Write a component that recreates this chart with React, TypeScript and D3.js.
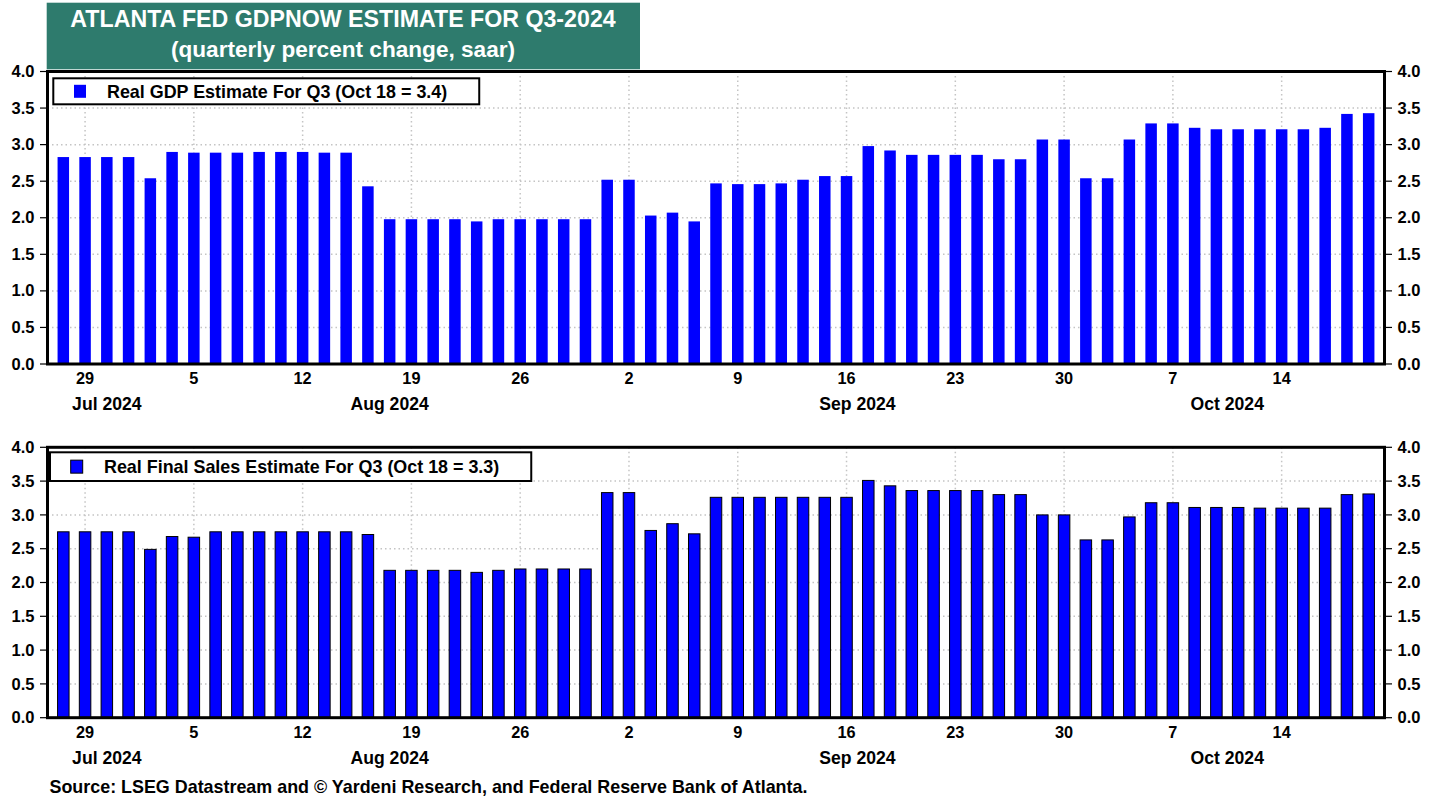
import * as d3 from "d3";
import { useEffect, useRef } from "react";

// business days shown on the x axis
const firstDay = "2024-07-26";
const lastDay = "2024-10-18";

const gdpValues = [
  2.83, 2.83, 2.83, 2.83, 2.54, 2.9, 2.89, 2.89, 2.89, 2.9,
  2.9, 2.9, 2.89, 2.89, 2.43, 1.98, 1.98, 1.98, 1.98, 1.95,
  1.98, 1.98, 1.98, 1.98, 1.98, 2.52, 2.52, 2.03, 2.07, 1.95,
  2.47, 2.46, 2.46, 2.47, 2.52, 2.57, 2.57, 2.98, 2.92, 2.86,
  2.86, 2.86, 2.86, 2.8, 2.8, 3.07, 3.07, 2.54, 2.54, 3.07,
  3.29, 3.29, 3.23, 3.21, 3.21, 3.21, 3.21, 3.21, 3.23, 3.42,
  3.43
];

const salesValues = [
  2.75, 2.75, 2.75, 2.75, 2.49, 2.68, 2.67, 2.75, 2.75, 2.75,
  2.75, 2.75, 2.75, 2.75, 2.71, 2.18, 2.18, 2.18, 2.18, 2.15,
  2.18, 2.2, 2.2, 2.2, 2.2, 3.33, 3.33, 2.77, 2.87, 2.72,
  3.26, 3.26, 3.26, 3.26, 3.26, 3.26, 3.26, 3.51, 3.43, 3.36,
  3.36, 3.36, 3.36, 3.3, 3.3, 3.0, 3.0, 2.63, 2.63, 2.97,
  3.18, 3.18, 3.11, 3.11, 3.11, 3.1, 3.1, 3.1, 3.1, 3.3,
  3.31
];

const yTicks = [0, 0.5, 1, 1.5, 2, 2.5, 3, 3.5, 4];
const titleLines = ["ATLANTA FED GDPNOW ESTIMATE FOR Q3-2024", "(quarterly percent change, saar)"];
const legendLabels = ["Real GDP Estimate For Q3 (Oct 18 = 3.4)", "Real Final Sales Estimate For Q3 (Oct 18 = 3.3)"];
const sourceText = "Source: LSEG Datastream and \u00a9 Yardeni Research, and Federal Reserve Bank of Atlanta.";

const font = "'Liberation Sans', Arial, sans-serif";
const teal = "#2E7B6D";
const blue = "#0000FF";

const parse = d3.timeParse("%Y-%m-%d");
const dates = d3
  .timeDays(parse(firstDay), d3.timeDay.offset(parse(lastDay), 1))
  .filter(d => d.getDay() !== 0 && d.getDay() !== 6);

const drawChart = (svgEl) => {
  const svg = d3.select(svgEl);
  svg.selectAll("*").remove();

  const x = d3
    .scaleLinear()
    .domain([-0.75, dates.length - 0.25])
    .range([47, 1385]);
  const left = 47.5;
  const right = 1384.5;
  const barW = 11.5;

  const mondays = dates.map((d, i) => ({ d, i })).filter(o => o.d.getDay() === 1);

  // month labels centred on the span of each month
  const months = [];
  dates.forEach((d, i) => {
    const key = d3.timeFormat("%b %Y")(d);
    if (!months.length || months[months.length - 1].key !== key) months.push({ key, start: i });
  });
  months.forEach((m, k) => {
    const end = k < months.length - 1 ? months[k + 1].start : dates.length - 1;
    m.mid = (m.start + end) / 2;
  });

  // title
  svg.append("rect").attr("x", 46.7).attr("y", 2.7).attr("width", 593.3).attr("height", 66.6).attr("fill", teal);
  titleLines.forEach((t, k) => {
    svg
      .append("text")
      .attr("x", 343)
      .attr("y", 27 + k * 30)
      .attr("text-anchor", "middle")
      .attr("fill", "#fff")
      .style("font", `bold ${k === 0 ? 23.2 : 22.6}px ${font}`)
      .text(t);
  });

  const panels = [
    { values: gdpValues, label: legendLabels[0], y0: 364, y1: 71.5, lx: 53.3, ly: 78.3, lh: 26, sqx: 74, textX: 107, outline: "none" },
    { values: salesValues, label: legendLabels[1], y0: 717.7, y1: 447.3, lx: 50, ly: 452.3, lh: 28.7, sqx: 70.7, textX: 104, outline: "#000" }
  ];

  panels.forEach(p => {
    const y = d3.scaleLinear().domain([0, 4]).range([p.y0, p.y1]);
    const g = svg.append("g");

    // grid
    g.selectAll(".hgrid")
      .data(yTicks.slice(1, -1))
      .enter()
      .append("line")
      .attr("x1", left)
      .attr("x2", right)
      .attr("y1", d => y(d))
      .attr("y2", d => y(d))
      .attr("stroke", "#c4c4c4")
      .attr("stroke-width", 1.5)
      .attr("stroke-dasharray", "1.5,3");
    g.selectAll(".vgrid")
      .data(mondays)
      .enter()
      .append("line")
      .attr("x1", d => x(d.i))
      .attr("x2", d => x(d.i))
      .attr("y1", p.y1)
      .attr("y2", p.y0)
      .attr("stroke", "#c4c4c4")
      .attr("stroke-width", 1.5)
      .attr("stroke-dasharray", "1.5,3");

    // bars
    g.selectAll(".bar")
      .data(p.values)
      .enter()
      .append("rect")
      .attr("x", (d, i) => x(i) - barW / 2)
      .attr("width", barW)
      .attr("y", d => y(d))
      .attr("height", d => y(0) - y(d))
      .attr("fill", blue)
      .attr("stroke", p.outline)
      .attr("stroke-width", 1);

    // frame
    g.append("rect")
      .attr("x", left)
      .attr("y", p.y1)
      .attr("width", right - left)
      .attr("height", p.y0 - p.y1)
      .attr("fill", "none")
      .attr("stroke", "#000")
      .attr("stroke-width", 3);

    // y ticks both sides
    yTicks.forEach(t => {
      g.append("line").attr("x1", 40).attr("x2", left).attr("y1", y(t)).attr("y2", y(t)).attr("stroke", "#000").attr("stroke-width", 1.2);
      g.append("line").attr("x1", right).attr("x2", 1392).attr("y1", y(t)).attr("y2", y(t)).attr("stroke", "#000").attr("stroke-width", 1.2);
      g.append("text")
        .attr("x", 34.5)
        .attr("y", y(t) + 5.6)
        .attr("text-anchor", "end")
        .style("font", `bold 16.5px ${font}`)
        .text(d3.format(".1f")(t));
      g.append("text")
        .attr("x", 1397.5)
        .attr("y", y(t) + 5.6)
        .attr("text-anchor", "start")
        .style("font", `bold 16.5px ${font}`)
        .text(d3.format(".1f")(t));
    });

    // x labels
    g.selectAll(".day")
      .data(mondays)
      .enter()
      .append("text")
      .attr("x", d => x(d.i))
      .attr("y", p.y0 + 20.3)
      .attr("text-anchor", "middle")
      .style("font", `bold 16.3px ${font}`)
      .text(d => d3.timeFormat("%-d")(d.d));
    g.selectAll(".month")
      .data(months)
      .enter()
      .append("text")
      .attr("x", d => x(d.mid))
      .attr("y", p.y0 + 46)
      .attr("text-anchor", "middle")
      .style("font", `bold 17.6px ${font}`)
      .text(d => d.key);

    // legend
    const box = g.append("rect")
      .attr("x", p.lx)
      .attr("y", p.ly)
      .attr("height", p.lh)
      .attr("fill", "#fff")
      .attr("stroke", "#000")
      .attr("stroke-width", 2);
    g.append("rect")
      .attr("x", p.sqx)
      .attr("y", p.ly + p.lh / 2 - 6.5)
      .attr("width", 12)
      .attr("height", 13)
      .attr("fill", blue)
      .attr("stroke", p.outline)
      .attr("stroke-width", 1);
    const label = g.append("text")
      .attr("x", p.textX)
      .attr("y", p.ly + p.lh / 2 + 6.2)
      .style("font", `bold 17.9px ${font}`)
      .text(p.label);
    const tw = label.node().getComputedTextLength();
    box.attr("width", p.textX + tw + 32 - p.lx);
  });

  svg.append("text")
    .attr("x", 49.5)
    .attr("y", 793)
    .style("font", `bold 17.9px ${font}`)
    .text(sourceText);
};

export default function App() {
  const ref = useRef(null);
  useEffect(() => {
    drawChart(ref.current);
  }, []);
  return (
    <div style={{ position: "absolute", left: 0, top: 0, background: "#fff" }}>
      <svg ref={ref} width={1441} height={800} style={{ display: "block" }} />
    </div>
  );
}
